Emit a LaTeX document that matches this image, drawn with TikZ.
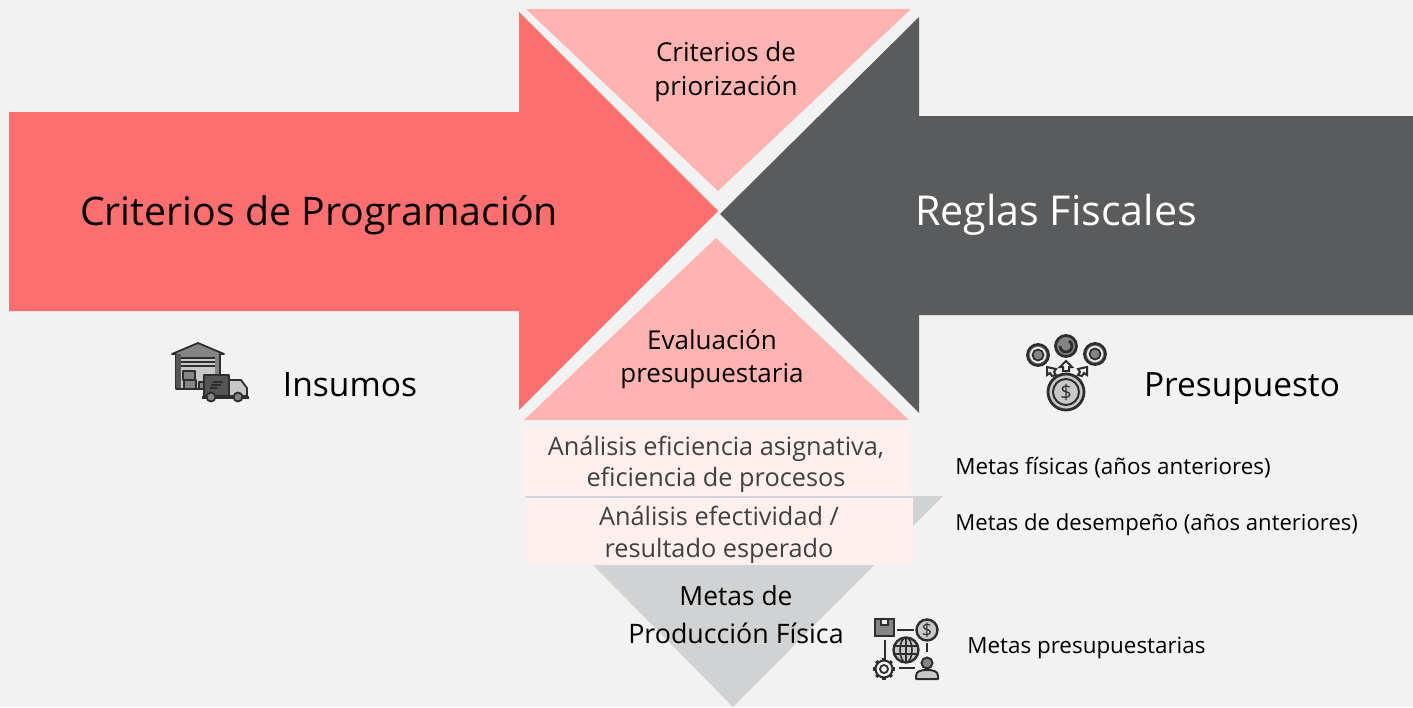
\documentclass[tikz,border=0pt]{standalone}
\usepackage{fontspec}
\setmainfont{Open Sans}
\definecolor{bgc}{HTML}{F2F2F2}
\definecolor{redc}{HTML}{FF6F6F}
\definecolor{pinkc}{HTML}{FFB4B2}
\definecolor{palec}{HTML}{FFF0EF}
\definecolor{darkc}{HTML}{5A5B5D}
\definecolor{grayc}{HTML}{D0D2D4}
\definecolor{txtg}{HTML}{404040}
\definecolor{ic}{HTML}{2E2E2E}
\definecolor{icd}{HTML}{555555}
\definecolor{icm}{HTML}{858585}
\definecolor{icl}{HTML}{C8C8C8}
\tikzset{
  lbl/.style={inner sep=0pt,align=center,font=\fontsize{#1}{#1}\selectfont,text=black},
  lblg/.style={inner sep=0pt,align=center,font=\fontsize{#1}{#1}\selectfont,text=txtg},
  icon/.style={draw=ic,line width=0.9pt,line join=round},
}
\begin{document}
\begin{tikzpicture}[x=0.5pt,y=-0.5pt]
\useasboundingbox (0,0) rectangle (1413,707);
\fill[bgc] (0,0) rectangle (1413,707);
% arrows
\fill[redc] (9,112)--(519,112)--(519,12)--(718,211)--(519,410)--(519,311)--(9,311)--cycle;
\fill[darkc] (1413,116)--(919,116)--(919,17)--(720,214)--(919,413)--(919,315)--(1413,315)--cycle;
\fill[pinkc] (526,9)--(911,9)--(718,191)--cycle;
\fill[pinkc] (716,238)--(909,420)--(524,420)--cycle;
% lower funnel
\fill[grayc] (525,496)--(943,496)--(733,707)--cycle;
\fill[palec] (524,427) rectangle (910,495);
\fill[palec] (527,498) rectangle (913,565);
% texts
\node[lbl=19.65] (prog) at (319,215) {Criterios de Programación};
\node[lbl=20.6,text=white] (fisc) at (1056,215) {Reglas Fiscales};
\node[lbl=13] (prio1) at (726,52) {Criterios de};
\node[lbl=13] (prio2) at (726,89) {priorización};
\node[lbl=13] (eval1) at (712,340) {Evaluación};
\node[lbl=13] (eval2) at (712,376) {presupuestaria};
\node[lbl=16.8] (ins) at (350,385) {Insumos};
\node[lbl=16.7] (pres) at (1242,389) {Presupuesto};
\node[lblg=12.65] (a1) at (716,449) {Análisis eficiencia asignativa,};
\node[lblg=12.65] (a2) at (716,480) {eficiencia de procesos};
\node[lblg=12.65] (b1) at (719,516) {Análisis efectividad /};
\node[lblg=12.65] (b2) at (719,551) {resultado esperado};
\node[lbl=13.2] (m1) at (736,596) {Metas de};
\node[lbl=13.4] (m2) at (736,633) {Producción Física};
\node[lbl=11.2,anchor=west] (r1) at (955,468) {Metas físicas (años anteriores)};
\node[lbl=11.05,anchor=west] (r2) at (955,525) {Metas de desempeño (años anteriores)};
\node[lbl=11.2,anchor=west] (r3) at (967,648) {Metas presupuestarias};
% warehouse + truck icon
\fill[icm,icon] (172,354)--(198,343)--(224,354)--(220,354)--(220,389)--(176,389)--(176,354)--cycle;
\fill[icd] (176,354) rectangle (181,389);
\fill[icl] (181,358) rectangle (215,389);
\draw[ic,line width=0.9pt] (181,358)--(215,358) (181,362)--(215,362) (181,366)--(215,366) (176,389)--(205,389);
\fill[icm,icon] (183,371) rectangle (195,380);
\fill[icm,icon] (184,380) rectangle (196,389);
\fill[icm,icon] (199,382) rectangle (205,389);
\fill[icd,icon] (204,375) rectangle (229,396);
\fill[icl,icon] (229,380)--(241,380)--(247,388)--(247,396)--(229,396)--cycle;
\fill[ic] (202,396) rectangle (249,399);
\fill[icm,icon] (211,397) circle (4.5);
\fill[icm,icon] (238,397) circle (4.5);
\draw[ic,line width=0.9pt] (213,382)--(223,382) (211,385)--(221,385) (210,388)--(217,388);
% money icon
\foreach \cx/\cy in {1038/355,1095/354}{
  \fill[icm,draw=ic,line width=1.4pt] (\cx,\cy) circle (10.5);
  \fill[bgc] (\cx,\cy) circle (8);
  \fill[icm,draw=ic,line width=0.9pt] (\cx,\cy) circle (5.5);
}
\fill[icm,draw=ic,line width=1.4pt] (1066,346) circle (10.5);
\draw[ic,line width=1.4pt] (1060,346) arc (180:-60:6);
% arrows of the money icon
\fill[bgc,draw=ic,line width=1pt] (1066,361)--(1072,367)--(1069,367)--(1069,371)--(1063,371)--(1063,367)--(1060,367)--cycle;
\fill[bgc,draw=ic,line width=1pt] (1047,367)--(1056,369)--(1054,372)--(1056,375)--(1052,376)--(1050,373)--(1047,375)--cycle;
\fill[bgc,draw=ic,line width=1pt] (1087,367)--(1078,369)--(1080,372)--(1078,375)--(1082,376)--(1084,373)--(1087,375)--cycle;
\fill[icl,draw=ic,line width=1.4pt] (1066,392) circle (18);
\draw[ic,line width=1pt] (1066,392) circle (13);
\node[inner sep=0pt,font=\fontsize{10}{10}\selectfont,text=ic] (dollar) at (1066,392) {\$};
% network icon
\fill[icm,draw=ic,line width=1.2pt] (875,619) rectangle (894,636);
\fill[bgc,draw=ic,line width=0.7pt] (881,619) rectangle (888,625);
\fill[icl,draw=ic,line width=1.2pt] (927,630) circle (10.5);
\node[inner sep=0pt,font=\fontsize{9}{9}\selectfont,text=ic] (usd) at (927,630) {\$};
\draw[ic,line width=1.2pt] (897,630)--(914,630) (885,640)--(885,658) (927,643)--(927,652) (899,668)--(915,668);
\fill[icl,draw=ic,line width=1.2pt] (906,650) circle (12.5);
\draw[ic,line width=0.8pt] (906,650) ellipse (6 and 12.5) (906,637.5)--(906,662.5) (894,646)--(918,646) (894,654)--(918,654);
% gear
\foreach \a in {0,45,...,315}{
  \draw[ic,line width=1.6pt] (884,669)+(\a:8.5) -- +(\a:11);
}
\fill[bgc,draw=ic,line width=1pt] (884,669) circle (8.5);
\fill[bgc,draw=ic,line width=0.9pt] (884,669) circle (4);
% person
\fill[icl,draw=ic,line width=1pt,line join=round] (916,679)--(916,676) .. controls (916,671) and (921,670) .. (927,670) .. controls (933,670) and (938,671) .. (938,676)--(938,679)--cycle;
\fill[icm,draw=ic,line width=1pt] (927,663) circle (5.5);
\end{tikzpicture}
\end{document}
